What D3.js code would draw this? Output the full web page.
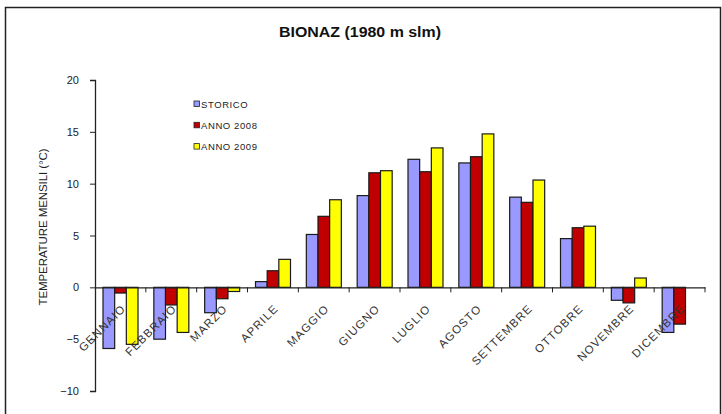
<!DOCTYPE html>
<html>
<head>
<meta charset="utf-8">
<script src="https://cdn.jsdelivr.net/npm/d3@7.9.0/dist/d3.min.js"></script>
<style>
  html, body { margin: 0; padding: 0; background: #fff; }
  svg { display: block; font-family: "Liberation Sans", Arial, sans-serif; }
</style>
</head>
<body>
<svg id="chart" width="722" height="414"></svg>
<script>
const months = ['GENNAIO', 'FEBBRAIO', 'MARZO', 'APRILE', 'MAGGIO', 'GIUGNO',
  'LUGLIO', 'AGOSTO', 'SETTEMBRE', 'OTTOBRE', 'NOVEMBRE', 'DICEMBRE'];
const seriesNames = ['STORICO', 'ANNO 2008', 'ANNO 2009'];
const seriesColors = ['#9999ff', '#c00000', '#ffff00'];
const storico = [-5.9, -5.0, -2.45, 0.55, 5.1, 8.85, 12.35, 12.0, 8.7, 4.7, -1.25, -4.35];
const anno2008 = [-0.55, -1.7, -1.1, 1.6, 6.85, 11.05, 11.15, 12.6, 8.2, 5.75, -1.5, -3.55];
const anno2009 = [-5.5, -4.35, -0.4, 2.7, 8.45, 11.25, 13.45, 14.8, 10.35, 5.9, 0.9, null];
const yTicks = [-10, -5, 0, 5, 10, 15, 20];

const series = [storico, anno2008, anno2009];
const svg = d3.select('#chart');

// outer frame
svg.append('rect')
  .attr('x', 5.5).attr('y', 7.5)
  .attr('width', 715).attr('height', 420)
  .attr('fill', 'none').attr('stroke', '#222').attr('stroke-width', 1.5);

const x0 = d3.scaleBand().domain(months).range([95, 705]);
const x1 = d3.scaleBand().domain(seriesNames).range([8, 43]);
const y = d3.scaleLinear().domain([-10, 20]).range([391, 80]);

// title
svg.append('text')
  .attr('x', 360).attr('y', 37)
  .attr('text-anchor', 'middle')
  .attr('font-size', 14).attr('font-weight', 'bold')
  .attr('fill', '#111')
  .attr('textLength', 162).attr('lengthAdjust', 'spacingAndGlyphs')
  .text('BIONAZ (1980  m slm)');

// bars
const groups = svg.append('g').selectAll('g')
  .data(months)
  .join('g')
  .attr('transform', (d) => `translate(${x0(d)},0)`);

groups.selectAll('rect')
  .data((m, i) => series.map((s, k) => ({ name: seriesNames[k], k, v: s[i] })).filter((d) => d.v != null))
  .join('rect')
  .attr('x', (d) => x1(d.name))
  .attr('width', x1.bandwidth())
  .attr('y', (d) => y(Math.max(0, d.v)))
  .attr('height', (d) => Math.abs(y(d.v) - y(0)))
  .attr('fill', (d) => seriesColors[d.k])
  .attr('stroke', '#1a1a1a')
  .attr('stroke-width', 1.2);

// y axis
const yAxis = svg.append('g')
  .attr('transform', 'translate(95,0)')
  .call(d3.axisLeft(y).tickValues(yTicks).tickSize(5).tickPadding(11));
yAxis.select('.domain').attr('stroke', '#222').attr('stroke-width', 1.3);
yAxis.selectAll('.tick line').attr('stroke', '#222');
yAxis.selectAll('.tick text')
  .attr('font-size', 11).attr('fill', '#222')
  .attr('font-family', '"Liberation Sans", Arial, sans-serif');

// x axis on zero line
const xAxis = svg.append('g')
  .attr('transform', `translate(0,${y(0)})`)
  .call(d3.axisBottom(x0).tickSize(0).tickFormat(''));
xAxis.select('.domain').attr('stroke', '#222').attr('stroke-width', 1.3);
xAxis.selectAll('.tick').remove();
xAxis.selectAll('.sep')
  .data(months)
  .join('line')
  .attr('class', 'sep')
  .attr('x1', (d) => x0(d) + x0.bandwidth())
  .attr('x2', (d) => x0(d) + x0.bandwidth())
  .attr('y1', 0).attr('y2', 5)
  .attr('stroke', '#222');

// category labels
svg.append('g').selectAll('text')
  .data(months)
  .join('text')
  .attr('transform', (d) => `translate(${x0(d) + x0.bandwidth() / 2 + 6},${y(0) + 22}) rotate(-45)`)
  .attr('text-anchor', 'end')
  .attr('font-size', 11.5)
  .attr('letter-spacing', 1.1)
  .attr('fill', '#333')
  .text((d) => d);

// y axis title
svg.append('text')
  .attr('transform', 'translate(47,227) rotate(-90)')
  .attr('text-anchor', 'middle')
  .attr('font-size', 11.5)
  .attr('fill', '#222')
  .attr('textLength', 157).attr('lengthAdjust', 'spacing')
  .text('TEMPERATURE MENSILI (°C)');

// legend
const legend = svg.append('g').attr('transform', 'translate(194,104)');
seriesNames.forEach((name, k) => {
  const row = legend.append('g').attr('transform', `translate(0,${k * 21.3})`);
  row.append('rect')
    .attr('x', 0).attr('y', -3).attr('width', 5.5).attr('height', 5.5)
    .attr('fill', seriesColors[k]).attr('stroke', '#222').attr('stroke-width', 0.8);
  row.append('text')
    .attr('x', 7).attr('y', 3.5)
    .attr('font-size', 9.5)
    .attr('letter-spacing', 0.6)
    .attr('fill', '#222')
    .text(name);
});
</script>
</body>
</html>
